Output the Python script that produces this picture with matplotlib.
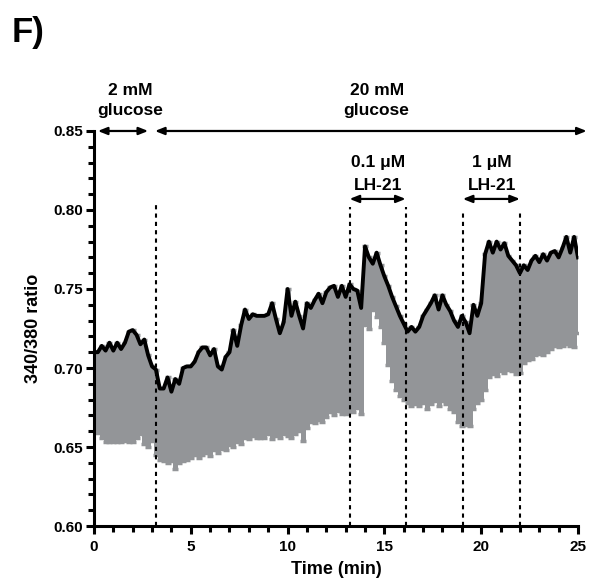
import matplotlib.pyplot as plt
import numpy as np

plt.rcParams['font.family'] = ['Liberation Sans', 'DejaVu Sans']
plt.rcParams['font.weight'] = 'bold'

# time points (min)
t = np.round(np.arange(0, 25.01, 0.2), 1)

# mean 340/380 ratio
mean = np.array([
    0.710, 0.710, 0.714, 0.711, 0.716, 0.711, 0.716, 0.712, 0.716, 0.723,
    0.724, 0.721, 0.715, 0.718, 0.708, 0.701, 0.699, 0.687, 0.687, 0.694,
    0.685, 0.693, 0.690, 0.700, 0.701, 0.701, 0.704, 0.710, 0.713, 0.713,
    0.708, 0.712, 0.701, 0.699, 0.707, 0.710, 0.724, 0.714, 0.727, 0.737,
    0.731, 0.734, 0.733, 0.733, 0.733, 0.734, 0.741, 0.731, 0.722, 0.729,
    0.750, 0.733, 0.742, 0.733, 0.725, 0.741, 0.738, 0.743, 0.747, 0.741,
    0.748, 0.751, 0.752, 0.745, 0.752, 0.745, 0.753, 0.750, 0.749, 0.738,
    0.777, 0.770, 0.766, 0.773, 0.765, 0.758, 0.752, 0.745, 0.739, 0.733,
    0.728, 0.723, 0.726, 0.723, 0.726, 0.733, 0.737, 0.741, 0.746, 0.737,
    0.746, 0.740, 0.736, 0.730, 0.726, 0.733, 0.729, 0.722, 0.740, 0.733,
    0.741, 0.772, 0.780, 0.773, 0.780, 0.775, 0.779, 0.771, 0.768, 0.765,
    0.760, 0.765, 0.762, 0.768, 0.771, 0.767, 0.772, 0.768, 0.773, 0.774,
    0.770, 0.776, 0.783, 0.773, 0.783, 0.770])

# lower end of error bar (mean - SEM)
lower = np.array([
    0.660, 0.659, 0.656, 0.653, 0.653, 0.653, 0.653, 0.653, 0.654, 0.653,
    0.653, 0.656, 0.658, 0.652, 0.650, 0.654, 0.645, 0.642, 0.641, 0.640,
    0.641, 0.636, 0.640, 0.641, 0.642, 0.643, 0.645, 0.643, 0.645, 0.646,
    0.644, 0.648, 0.646, 0.649, 0.648, 0.651, 0.650, 0.653, 0.652, 0.656,
    0.655, 0.657, 0.656, 0.656, 0.656, 0.658, 0.655, 0.657, 0.656, 0.658,
    0.657, 0.656, 0.658, 0.660, 0.654, 0.662, 0.666, 0.665, 0.667, 0.666,
    0.669, 0.672, 0.670, 0.673, 0.671, 0.671, 0.673, 0.672, 0.675, 0.671,
    0.727, 0.725, 0.737, 0.732, 0.726, 0.716, 0.702, 0.692, 0.686, 0.682,
    0.680, 0.678, 0.676, 0.677, 0.676, 0.678, 0.674, 0.677, 0.679, 0.676,
    0.679, 0.677, 0.674, 0.672, 0.666, 0.663, 0.664, 0.663, 0.674, 0.678,
    0.680, 0.686, 0.694, 0.696, 0.695, 0.698, 0.697, 0.699, 0.698, 0.696,
    0.697, 0.703, 0.705, 0.706, 0.708, 0.709, 0.708, 0.710, 0.712, 0.714,
    0.713, 0.714, 0.715, 0.714, 0.713, 0.722])

# solution changes (min)
switch_times = [3.2, 13.2, 16.1, 19.05, 22.0]
switch_tops = [0.805, 0.802, 0.802, 0.799, 0.799]

gray = '#939598'

fig = plt.figure(figsize=(5.91, 5.84), dpi=100)
ax = fig.add_axes([0.159, 0.0993, 0.819, 0.6764])

ax.errorbar(t, mean, yerr=[mean - lower, np.zeros_like(mean)], fmt='none',
            ecolor=gray, elinewidth=3.6, capsize=2.5, capthick=2.5, zorder=1)
ax.plot(t, mean, color='black', lw=2.8, zorder=3)

for x, top in zip(switch_times, switch_tops):
    ax.plot([x, x], [0.60, top], color='black', lw=1.5, ls=(0, (2, 2)), zorder=4)

ax.set_xlim(0, 25)
ax.set_ylim(0.60, 0.85)
ax.set_xticks([0, 5, 10, 15, 20, 25])
ax.set_xticks(np.arange(0, 26, 1), minor=True)
ax.set_yticks([0.60, 0.65, 0.70, 0.75, 0.80, 0.85])
ax.set_yticks(np.arange(0.60, 0.851, 0.01), minor=True)
ax.set_yticklabels(['0.60', '0.65', '0.70', '0.75', '0.80', '0.85'])
ax.spines['top'].set_visible(False)
ax.spines['right'].set_visible(False)
ax.spines['left'].set_linewidth(2.2)
ax.spines['bottom'].set_linewidth(2.2)
ax.tick_params(which='major', length=6, width=2.2, labelsize=11)
ax.tick_params(axis='x', which='major', pad=4)
ax.tick_params(axis='y', which='major', pad=2)
ax.tick_params(which='minor', length=4, width=2.2)
ax.set_xlabel('Time (min)', fontsize=13, fontweight='bold', labelpad=5)
ax.set_ylabel('340/380 ratio', fontsize=13, fontweight='bold', labelpad=8)

arrow = dict(arrowstyle='<|-|>,head_length=0.55,head_width=0.22', color='black',
             lw=1.6, shrinkA=0, shrinkB=0)
ax.annotate('', xy=(0.2, 0.85), xytext=(2.8, 0.85), arrowprops=arrow, annotation_clip=False)
ax.annotate('', xy=(3.15, 0.85), xytext=(25.45, 0.85), arrowprops=arrow, annotation_clip=False)
ax.annotate('', xy=(13.2, 0.807), xytext=(16.1, 0.807), arrowprops=arrow, annotation_clip=False)
ax.annotate('', xy=(19.05, 0.807), xytext=(22.0, 0.807), arrowprops=arrow, annotation_clip=False)

labels = [(1.85, '2 mM', 'glucose', 0.8725, 0.8600),
          (14.6, '20 mM', 'glucose', 0.8725, 0.8600),
          (14.65, '0.1 \u03bcM', 'LH-21', 0.8272, 0.8127),
          (20.55, '1 \u03bcM', 'LH-21', 0.8272, 0.8127)]
for x, l1, l2, y1, y2 in labels:
    ax.text(x, y1, l1, ha='center', va='baseline', fontsize=12.5, fontweight='bold', clip_on=False)
    ax.text(x, y2, l2, ha='center', va='baseline', fontsize=12.5, fontweight='bold', clip_on=False)

fig.text(0.02, 0.928, 'F)', fontsize=25, fontweight='bold', va='baseline')

fig.savefig('out.png', dpi=100)
